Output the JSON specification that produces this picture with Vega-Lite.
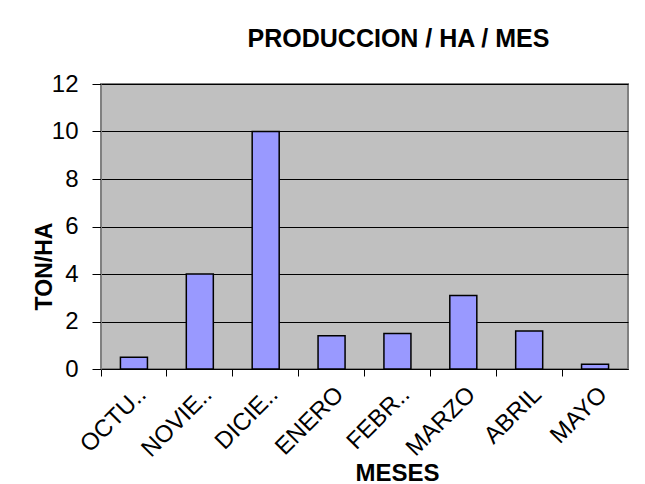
{
  "$schema": "https://vega.github.io/schema/vega-lite/v6.json",
  "width": 527,
  "height": 285,
  "autosize": "none",
  "padding": {"left": 101, "top": 84, "right": 17, "bottom": 115},
  "background": "white",
  "title": {
    "text": "PRODUCCION / HA / MES",
    "fontSize": 25,
    "font": "Liberation Sans",
    "fontWeight": "bold",
    "color": "black",
    "anchor": "middle",
    "dx": 34,
    "baseline": "alphabetic",
    "offset": 0
  },
  "data": {
    "values": [
      {"mes": "OCTU..", "ton_ha": 0.5},
      {"mes": "NOVIE..", "ton_ha": 4},
      {"mes": "DICIE..", "ton_ha": 10},
      {"mes": "ENERO", "ton_ha": 1.4},
      {"mes": "FEBR..", "ton_ha": 1.5},
      {"mes": "MARZO", "ton_ha": 3.1},
      {"mes": "ABRIL", "ton_ha": 1.6},
      {"mes": "MAYO", "ton_ha": 0.2}
    ]
  },
  "mark": {"type": "bar", "fill": "#9999FF", "stroke": "black", "strokeWidth": 1.5, "width": {"band": 0.41}},
  "encoding": {
    "x": {
      "field": "mes",
      "type": "nominal",
      "sort": null,
      "scale": {"paddingInner": 0, "paddingOuter": 0},
      "axis": {
        "bandPosition": 0,
        "labelOffset": 0,
        "ticks": true,
        "tickSize": 7,
        "tickColor": "black",
        "domainColor": "black",
        "labelAngle": -45,
        "labelFont": "Liberation Sans",
        "labelFontSize": 24,
        "labelColor": "black",
        "labelPadding": 6,
        "labelLimit": 200,
        "title": "MESES",
        "titleFont": "Liberation Sans",
        "titleFontSize": 24,
        "titleFontWeight": "bold",
        "titleColor": "black",
        "titleX": 296,
        "titleY": 111,
        "titleAlign": "center",
        "titleBaseline": "alphabetic"
      }
    },
    "y": {
      "field": "ton_ha",
      "type": "quantitative",
      "scale": {"domain": [0, 12]},
      "axis": {
        "values": [0, 2, 4, 6, 8, 10, 12],
        "grid": true,
        "gridColor": "black",
        "gridWidth": 1,
        "tickSize": 9,
        "tickColor": "black",
        "domainColor": "#808080",
        "labelFont": "Liberation Sans",
        "labelFontSize": 24,
        "labelColor": "black",
        "labelPadding": 14,
        "title": "TON/HA",
        "titleFont": "Liberation Sans",
        "titleFontSize": 23,
        "titleFontWeight": "bold",
        "titleColor": "black",
        "titleAngle": -90,
        "titleX": -57,
        "titleY": 182,
        "titleAlign": "center",
        "titleBaseline": "middle"
      }
    }
  },
  "config": {
    "view": {"fill": "#C0C0C0", "stroke": "#808080", "strokeWidth": 2}
  }
}
